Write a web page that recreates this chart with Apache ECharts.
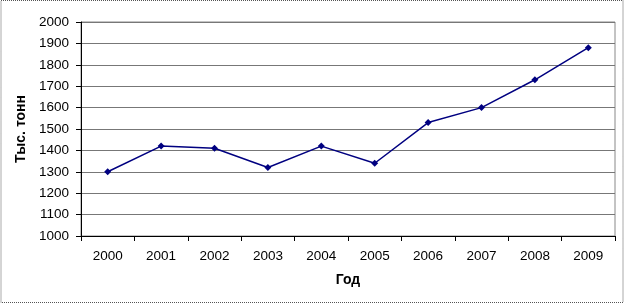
<!DOCTYPE html>
<html><head><meta charset="utf-8">
<script src="https://cdn.jsdelivr.net/npm/echarts@6/dist/echarts.min.js"></script>
<style>html,body{margin:0;padding:0;background:#fff}#c{width:625px;height:304px}</style>
</head><body><div id="c"></div>
<script>
var years = ['2000','2001','2002','2003','2004','2005','2006','2007','2008','2009'];
var values = [1300,1420,1410,1320,1420,1340,1530,1600,1730,1880];
var yMin = 1000, yMax = 2000, yStep = 100;

var chart = echarts.init(document.getElementById('c'));
chart.setOption({
  animation:false,
  backgroundColor:'#fff',
  graphic:[{type:'rect',shape:{x:1,y:0.5,width:622,height:302},style:{fill:'none',stroke:'#555',lineWidth:1,lineDash:[1,1]}}],
  grid:{left:81,right:10,top:22,bottom:68,show:true,borderColor:'#888',borderWidth:1,backgroundColor:'transparent'},
  xAxis:{type:'category',data:years,boundaryGap:true,
    name:'Год',nameLocation:'middle',nameGap:37,
    nameTextStyle:{fontFamily:'Liberation Sans',fontWeight:'bold',fontSize:14,color:'#000'},
    axisLine:{lineStyle:{color:'#000',width:1}},
    axisTick:{show:true,length:5,inside:false,lineStyle:{color:'#000'}},
    axisLabel:{fontFamily:'Liberation Sans',fontSize:13.5,color:'#000',margin:13}},
  yAxis:{type:'value',min:yMin,max:yMax,interval:yStep,
    name:'Тыс. тонн',nameLocation:'middle',nameGap:44,nameRotate:90,
    nameTextStyle:{fontFamily:'Liberation Sans',fontWeight:'bold',fontSize:14,color:'#000'},
    axisLine:{show:true,lineStyle:{color:'#000',width:1}},
    axisTick:{show:true,length:5,lineStyle:{color:'#000'}},
    splitLine:{lineStyle:{color:'#777',width:1}},
    axisLabel:{fontFamily:'Liberation Sans',fontSize:13.5,color:'#000',margin:12,formatter:function(v){return String(v);}}},
  series:[{type:'line',data:values,symbol:'diamond',symbolSize:7,
    lineStyle:{color:'#000080',width:1.5},itemStyle:{color:'#000080'}}]
});
</script></body></html>
